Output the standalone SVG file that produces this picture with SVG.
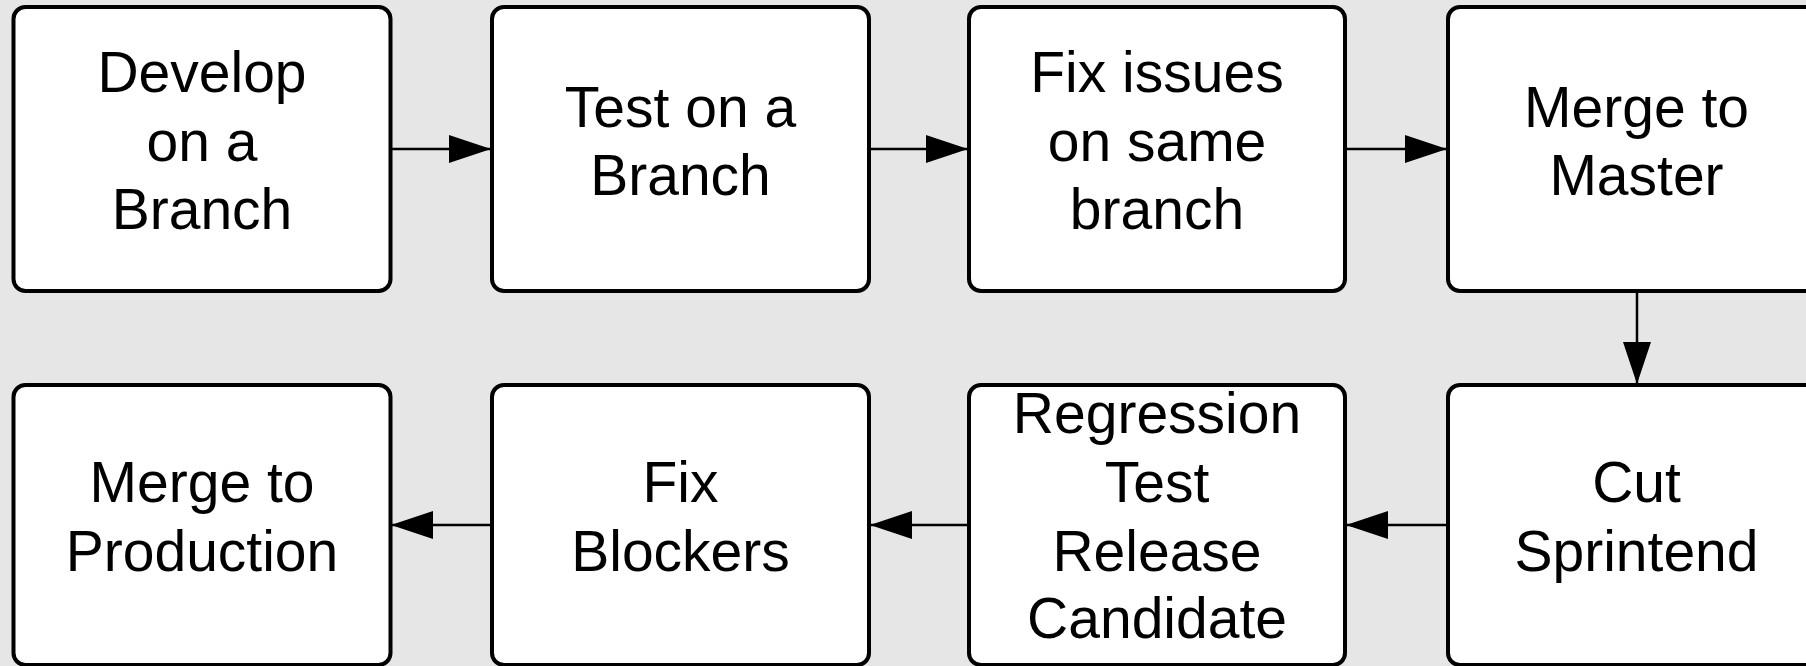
<svg xmlns="http://www.w3.org/2000/svg" width="1806" height="666" viewBox="0 0 1806 666">
<defs>
<style>
.box{fill:#fff;stroke:#000;stroke-width:4}
.lbl{font-family:"Liberation Sans",Arial,sans-serif;font-size:57px;fill:#000;text-anchor:middle}
.edge{stroke:#000;stroke-width:2.5;fill:none;marker-end:url(#arr)}
</style>
<marker id="arr" markerUnits="userSpaceOnUse" markerWidth="44" markerHeight="30" viewBox="0 0 44 30" refX="43" refY="15" orient="auto">
<path d="M1,1 L43,15 L1,29 Z" fill="#000"/>
</marker>
</defs>
<rect width="1806" height="666" fill="#e6e6e6"/>
<g id="connectors">
<line class="edge" x1="390" y1="149" x2="491" y2="149"/>
<line class="edge" x1="869" y1="149" x2="968" y2="149"/>
<line class="edge" x1="1345" y1="149" x2="1447" y2="149"/>
<line class="edge" x1="1637" y1="291" x2="1637" y2="384"/>
<line class="edge" x1="1448" y1="525" x2="1346" y2="525"/>
<line class="edge" x1="969" y1="525" x2="870" y2="525"/>
<line class="edge" x1="492" y1="525" x2="391" y2="525"/>
</g>
<g id="n1"><rect class="box" x="13.5" y="7" width="377" height="284" rx="12"/>
<text class="lbl" x="202" y="92">Develop</text><text class="lbl" x="202" y="160.5">on a</text><text class="lbl" x="202" y="229">Branch</text></g>
<g id="n2"><rect class="box" x="492" y="7" width="377" height="284" rx="12"/>
<text class="lbl" x="680.5" y="127">Test on a</text><text class="lbl" x="680.5" y="195">Branch</text></g>
<g id="n3"><rect class="box" x="969" y="7" width="376" height="284" rx="12"/>
<text class="lbl" x="1157" y="92">Fix issues</text><text class="lbl" x="1157" y="160.5">on same</text><text class="lbl" x="1157" y="229">branch</text></g>
<g id="n4"><rect class="box" x="1448" y="7" width="377" height="284" rx="12"/>
<text class="lbl" x="1636.5" y="127">Merge to</text><text class="lbl" x="1636.5" y="195">Master</text></g>
<g id="n5"><rect class="box" x="1448" y="385" width="377" height="280" rx="12"/>
<text class="lbl" x="1636.5" y="502">Cut</text><text class="lbl" x="1636.5" y="571">Sprintend</text></g>
<g id="n6"><rect class="box" x="969" y="385" width="376" height="280" rx="12"/>
<text class="lbl" x="1157" y="433">Regression</text><text class="lbl" x="1157" y="502">Test</text><text class="lbl" x="1157" y="571">Release</text><text class="lbl" x="1157" y="638">Candidate</text></g>
<g id="n7"><rect class="box" x="492" y="385" width="377" height="280" rx="12"/>
<text class="lbl" x="680.5" y="502">Fix</text><text class="lbl" x="680.5" y="571">Blockers</text></g>
<g id="n8"><rect class="box" x="13.5" y="385" width="377" height="280" rx="12"/>
<text class="lbl" x="202" y="502">Merge to</text><text class="lbl" x="202" y="571">Production</text></g>
</svg>
